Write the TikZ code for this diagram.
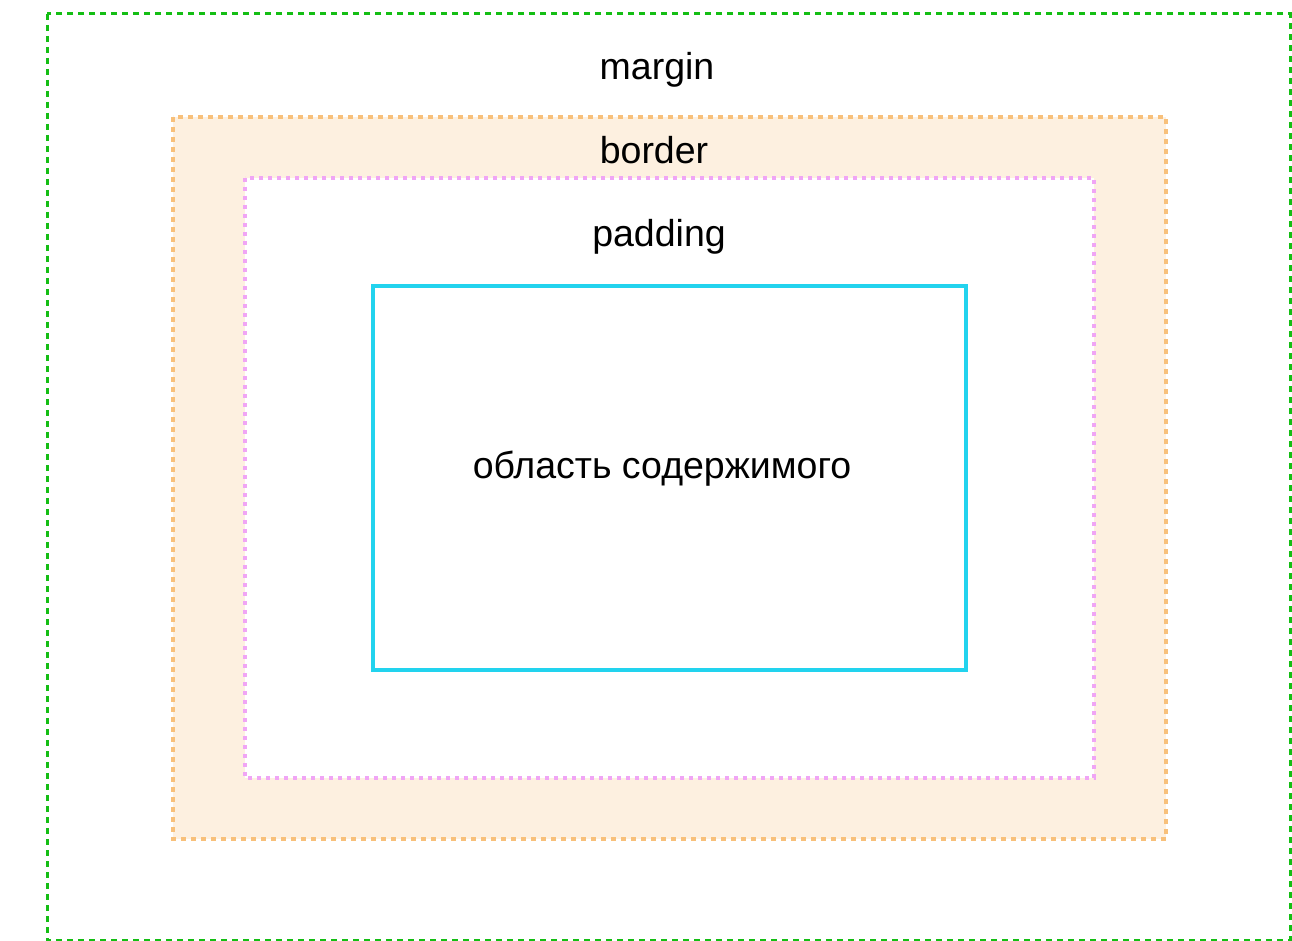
\documentclass[tikz,border=0pt]{standalone}
\usepackage{fontspec}
\setmainfont{Liberation Sans}
\definecolor{mgreen}{RGB}{20,190,20}
\definecolor{bstroke}{RGB}{248,192,122}
\definecolor{bfill}{RGB}{253,240,224}
\definecolor{ppink}{RGB}{240,165,245}
\definecolor{ccyan}{RGB}{34,211,238}
\tikzset{
  lbl/.style={font=\fontsize{37.5}{44}\selectfont, text=black, inner sep=0pt},
  marginbox/.style={draw=mgreen, line width=3pt, dash pattern=on 6pt off 5pt},
  borderbox/.style={draw=bstroke, fill=bfill, line width=3.5pt, dash pattern=on 5pt off 5pt},
  paddingbox/.style={draw=ppink, fill=white, line width=3.5pt, dash pattern=on 4pt off 5pt},
  contentbox/.style={draw=ccyan, line width=3.5pt},
}
\begin{document}
\begin{tikzpicture}[x=1pt,y=-1pt]
\useasboundingbox (0,0) rectangle (1292,941);
\fill[white] (0,0) rectangle (1292,941);
\draw[marginbox] (47,14) rectangle (1290,940);
\draw[borderbox] (173,117) rectangle (1166,839);
\draw[paddingbox] (245,178) rectangle (1094,778);
\draw[contentbox] (373,286) rectangle (966,670);
\node[lbl] (margin) at (657,70) {margin};
\node[lbl] (border) at (654,150) {border};
\node[lbl] (padding) at (659,237) {padding};
\node[lbl] (content) at (662,469) {область содержимого};
\end{tikzpicture}
\end{document}
